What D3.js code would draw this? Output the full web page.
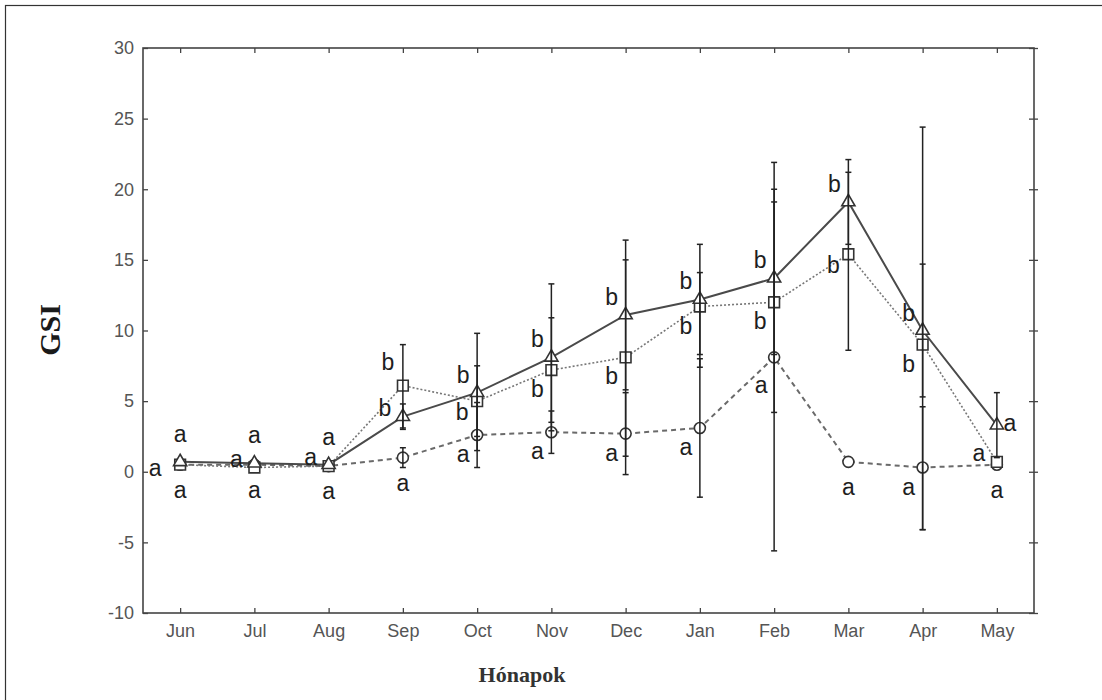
<!DOCTYPE html>
<html>
<head>
<meta charset="utf-8">
<script src="https://cdn.jsdelivr.net/npm/d3@7"></script>
<style>
  body { margin: 0; background: #fff; }
  svg { display: block; }
</style>
</head>
<body>
<div id="wrapper"></div>
<script>
// months on the x axis
const months = ["Jun", "Jul", "Aug", "Sep", "Oct", "Nov", "Dec", "Jan", "Feb", "Mar", "Apr", "May"];
const yTicks = [-10, -5, 0, 5, 10, 15, 20, 25, 30];

// triangle series (solid line)
const triMean = [0.7, 0.6, 0.5, 3.9, 5.6, 8.1, 11.1, 12.2, 13.7, 19.1, 10.0, 3.3];
const triLow  = [null, null, null, 3.0, 1.5, 2.9, 5.8, 8.3, 8.3, 16.1, 5.3, 1.0];
const triHigh = [null, null, null, 4.8, 9.8, 13.3, 16.4, 16.1, 19.1, 22.1, 14.7, 5.6];
const triLetters = ["a", "a", "a", "b", "b", "b", "b", "b", "b", "b", "b", "a"];
const triPlace = ["above", "above", "above", "left", "upLeft", "upLeft", "upLeft", "upLeft", "upLeft", "upLeft", "upLeft", "right"];

// square series (dotted line)
const sqMean = [0.5, 0.3, 0.4, 6.1, 5.0, 7.2, 8.1, 11.7, 12.0, 15.4, 9.0, 0.7];
const sqLow  = [null, null, null, 3.1, 2.5, 3.5, 1.1, 7.4, 4.2, 8.6, -4.1, null];
const sqHigh = [null, null, null, 9.0, 7.5, 10.9, 15.0, 14.1, 20.0, 21.2, 24.4, null];
const sqLetters = ["a", "a", "a", "b", "b", "b", "b", "b", "b", "b", "b", "a"];
const sqPlace = ["farLeft", "left", "left", "upLeftHigh", "lowLeft", "downLeft", "downLeft", "downLeft", "downLeft", "lowLeft", "downLeft", "left"];

// circle series (dashed line)
const cirMean = [0.5, 0.5, 0.4, 1.0, 2.6, 2.8, 2.7, 3.1, 8.1, 0.7, 0.3, 0.5];
const cirLow  = [null, null, null, 0.3, 0.3, 1.3, -0.2, -1.8, -5.6, null, -4.1, null];
const cirHigh = [null, null, null, 1.7, 4.9, 4.3, 5.6, 8.0, 21.9, null, 4.6, null];
const cirLetters = ["a", "a", "a", "a", "a", "a", "a", "a", "a", "a", "a", "a"];
const cirPlace = ["below", "below", "below", "below", "downLeft", "downLeft", "downLeft", "downLeft", "downLeftLow", "below", "downLeft", "below"];

const width = 1102
const height = 700
const plot = { left: 143, right: 1034, top: 48, bottom: 613 }

// where each letter sits relative to its point
const offsets = {
    above: [0, -28],
    below: [0, 25],
    left: [-18, -9],
    farLeft: [-25, 3],
    right: [13, -2],
    upLeft: [-14, -18],
    upLeftHigh: [-15, -24],
    lowLeft: [-15, 11],
    downLeft: [-14, 19],
    downLeftLow: [-13, 28],
}

const svg = d3.select("#wrapper")
    .append("svg")
    .attr("width", width)
    .attr("height", height);

// outer frame of the figure
svg.append("rect")
    .attr("x", 5.5).attr("y", 5.5)
    .attr("width", 1200).attr("height", 1000)
    .attr("fill", "none")
    .attr("stroke", "#333")
    .attr("stroke-width", 1.2);

const xScaler = d3.scalePoint()
    .domain(months)
    .range([plot.left, plot.right])
    .padding(0.5);

const yScaler = d3.scaleLinear()
    .domain([-10, 30])
    .range([plot.bottom, plot.top]);

const tickFont = "'Liberation Sans', Arial, sans-serif"

function styleAxis(g) {
    g.select(".domain").remove();
    g.selectAll(".tick line").attr("stroke", "#444").attr("stroke-width", 1.3);
    g.selectAll(".tick text")
        .attr("fill", "#555")
        .attr("font-family", tickFont)
        .attr("font-size", 18);
}

svg.append("g")
    .attr("transform", `translate(${plot.left},0)`)
    .call(d3.axisLeft(yScaler).tickValues(yTicks).tickSize(-5).tickPadding(9).tickFormat(d => String(d)))
    .call(styleAxis);

svg.append("g")
    .attr("transform", `translate(${plot.right - 5},0)`)
    .call(d3.axisRight(yScaler).tickValues(yTicks).tickSize(9).tickFormat(""))
    .call(styleAxis);

svg.append("g")
    .attr("transform", `translate(0,${plot.bottom})`)
    .call(d3.axisBottom(xScaler).tickSize(-5).tickPadding(11))
    .call(styleAxis);

svg.append("g")
    .attr("transform", `translate(0,${plot.top})`)
    .call(d3.axisTop(xScaler).tickSize(-5).tickFormat(""))
    .call(styleAxis);

// plot frame
svg.append("rect")
    .attr("x", plot.left).attr("y", plot.top)
    .attr("width", plot.right - plot.left)
    .attr("height", plot.bottom - plot.top)
    .attr("fill", "none")
    .attr("stroke", "#444")
    .attr("stroke-width", 1.6);

const series = [
    { mean: cirMean, low: cirLow, high: cirHigh, letters: cirLetters, place: cirPlace,
      symbol: d3.symbolCircle, size: 95, color: "#6a6a6a", dash: "5,4", lineWidth: 2 },
    { mean: sqMean, low: sqLow, high: sqHigh, letters: sqLetters, place: sqPlace,
      symbol: d3.symbolSquare, size: 115, color: "#777", dash: "2,2", lineWidth: 1.6 },
    { mean: triMean, low: triLow, high: triHigh, letters: triLetters, place: triPlace,
      symbol: d3.symbolTriangle, size: 75, color: "#4a4a4a", dash: null, lineWidth: 2 },
]

const lineGen = d3.line()
    .x((d, i) => xScaler(months[i]))
    .y(d => yScaler(d));

series.forEach(s => {
    svg.append("path")
        .datum(s.mean)
        .attr("d", lineGen)
        .attr("fill", "none")
        .attr("stroke", s.color)
        .attr("stroke-width", s.lineWidth)
        .attr("stroke-dasharray", s.dash);
})

series.forEach(s => {
    svg.append("g").selectAll("path")
        .data(s.mean)
        .join("path")
        .attr("transform", (d, i) => `translate(${xScaler(months[i])},${yScaler(d)})`)
        .attr("d", d3.symbol().type(s.symbol).size(s.size))
        .attr("fill", "#fff")
        .attr("stroke", "#333")
        .attr("stroke-width", 1.6);
})

// error bars on top of the markers
const capHalf = 3
series.forEach(s => {
    const bars = s.mean.map((m, i) => ({ month: months[i], lo: s.low[i], hi: s.high[i] }))
        .filter(d => d.lo !== null);
    const g = svg.append("g").attr("stroke", "#222").attr("stroke-width", 1.5);
    g.selectAll("line.bar")
        .data(bars)
        .join("line")
        .attr("class", "bar")
        .attr("x1", d => xScaler(d.month))
        .attr("x2", d => xScaler(d.month))
        .attr("y1", d => yScaler(d.hi))
        .attr("y2", d => yScaler(d.lo));
    ["lo", "hi"].forEach(k => {
        g.selectAll("line.cap-" + k)
            .data(bars)
            .join("line")
            .attr("class", "cap-" + k)
            .attr("x1", d => xScaler(d.month) - capHalf)
            .attr("x2", d => xScaler(d.month) + capHalf)
            .attr("y1", d => yScaler(d[k]))
            .attr("y2", d => yScaler(d[k]));
    })
})

// significance letters
series.forEach(s => {
    svg.append("g").selectAll("text")
        .data(s.letters)
        .join("text")
        .attr("x", (d, i) => xScaler(months[i]) + offsets[s.place[i]][0])
        .attr("y", (d, i) => yScaler(s.mean[i]) + offsets[s.place[i]][1])
        .attr("dy", "0.35em")
        .attr("text-anchor", "middle")
        .attr("fill", "#1e1e1e")
        .style("font-family", tickFont)
        .style("font-size", "23px")
        .text(d => d);
})

// axis titles
svg.append("text")
    .attr("transform", "translate(60,330) rotate(-90)")
    .attr("text-anchor", "middle")
    .style("font-family", "'Liberation Serif', 'Times New Roman', serif")
    .style("font-weight", "bold")
    .style("font-size", "30px")
    .attr("fill", "#1a1a1a")
    .text("GSI");

svg.append("text")
    .attr("x", 522)
    .attr("y", 682)
    .attr("text-anchor", "middle")
    .style("font-family", "'Liberation Serif', 'Times New Roman', serif")
    .style("font-weight", "bold")
    .style("font-size", "22px")
    .attr("fill", "#333")
    .text("Hónapok");
</script>
</body>
</html>
